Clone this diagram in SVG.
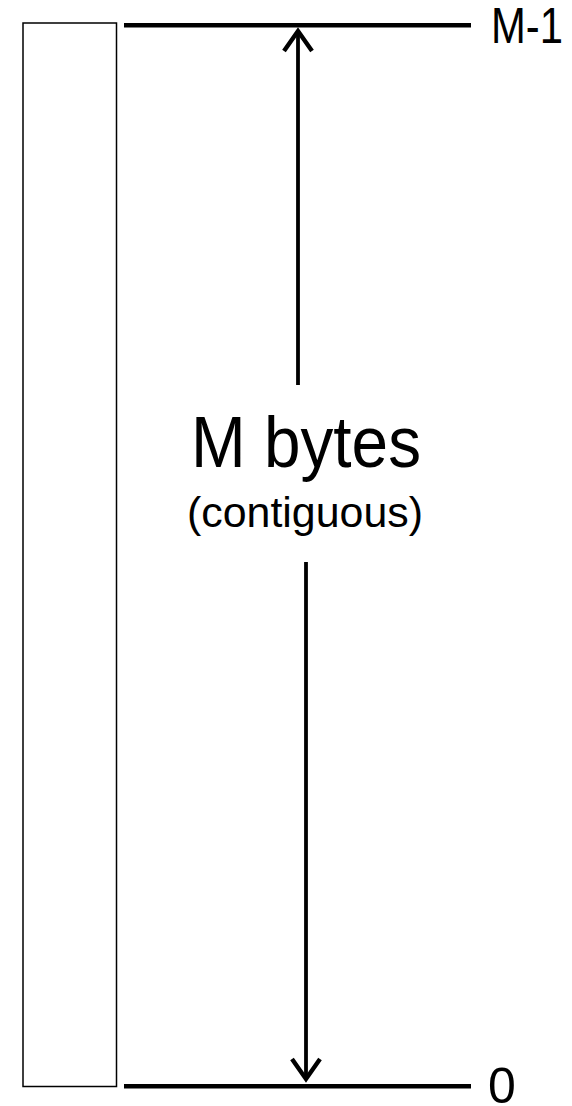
<svg xmlns="http://www.w3.org/2000/svg" width="572" height="1106" viewBox="0 0 572 1106">
<style>
.lbl{font-family:"Liberation Sans",Arial,sans-serif;fill:#000}
.bar{stroke:#000;stroke-width:4.6;fill:none}
.shaft{stroke:#000;stroke-width:3.8;fill:none}
</style>
<defs>
<marker id="chev" markerUnits="userSpaceOnUse" markerWidth="40" markerHeight="40" refX="0" refY="0" orient="auto" overflow="visible">
<path d="M-21,-14 L-1,0 L-21,14" fill="none" stroke="#000" stroke-width="4.4" stroke-linejoin="miter"/>
</marker>
</defs>
<rect x="0" y="0" width="572" height="1106" fill="#fff"/>
<g id="memory-block">
<rect x="23" y="23" width="93.5" height="1063.5" fill="#fff" stroke="#000" stroke-width="1.5"/>
</g>
<g id="top-address">
<line class="bar" x1="124" y1="25.2" x2="471" y2="25.2"/>
<text class="lbl" x="491" y="43" font-size="50" textLength="72" lengthAdjust="spacingAndGlyphs">M-1</text>
</g>
<g id="bottom-address">
<line class="bar" x1="124" y1="1086.3" x2="471" y2="1086.3"/>
<text class="lbl" x="488" y="1103" font-size="50">0</text>
</g>
<g id="size-label">
<text class="lbl" x="191" y="466.5" font-size="72" textLength="230" lengthAdjust="spacingAndGlyphs">M bytes</text>
<text class="lbl" x="187" y="527" font-size="43" textLength="236" lengthAdjust="spacingAndGlyphs">(contiguous)</text>
</g>
<g id="connectors">
<line class="shaft" x1="298" y1="385" x2="298" y2="30" marker-end="url(#chev)"/>
<line class="shaft" x1="306" y1="562" x2="306" y2="1080" marker-end="url(#chev)"/>
</g>
</svg>
